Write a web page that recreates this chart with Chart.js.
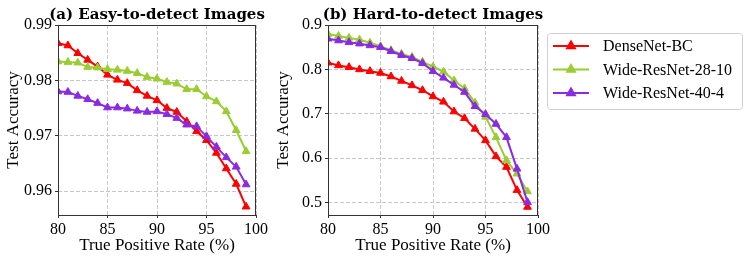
<!DOCTYPE html>
<html>
<head>
<meta charset="utf-8">
<script src="https://cdn.jsdelivr.net/npm/chart.js@4.4.0/dist/chart.umd.min.js"></script>
<style>
  html, body { margin: 0; padding: 0; background: #fff; }
  #wrap { position: relative; width: 748px; height: 263px; }
  #chartA { position: absolute; left: 0; top: 0; }
  #chartB { position: absolute; left: 270px; top: 0; }
</style>
</head>
<body>
<div id="wrap">
  <canvas id="chartA" width="270" height="263"></canvas>
  <canvas id="chartB" width="478" height="263"></canvas>
</div>
<script>
// true positive rate (%) on the x axis
const tpr = [80, 81, 82, 83, 84, 85, 86, 87, 88, 89, 90, 91, 92, 93, 94, 95, 96, 97, 98, 99];

// (a) easy-to-detect images
const easyDenseNet = [0.9867, 0.9863, 0.9849, 0.9837, 0.9825, 0.9810, 0.9801, 0.9795, 0.9782, 0.9772,
                      0.9764, 0.9750, 0.9743, 0.9726, 0.9708, 0.9692, 0.9669, 0.9641, 0.9613, 0.9572];
const easyWRN2810 = [0.9834, 0.9833, 0.9832, 0.9824, 0.9823, 0.9820, 0.9819, 0.9817, 0.9813, 0.9806,
                     0.9803, 0.9797, 0.9794, 0.9784, 0.9784, 0.9771, 0.9762, 0.9744, 0.9710, 0.9672];
const easyWRN404 = [0.9780, 0.9779, 0.9772, 0.9766, 0.9759, 0.9751, 0.9751, 0.9749, 0.9745, 0.9743,
                    0.9744, 0.9739, 0.9732, 0.9720, 0.9717, 0.9699, 0.9680, 0.9661, 0.9644, 0.9612];

// (b) hard-to-detect images
const hardDenseNet = [0.815, 0.809, 0.805, 0.800, 0.796, 0.792, 0.784, 0.774, 0.764, 0.753,
                      0.739, 0.727, 0.705, 0.690, 0.666, 0.640, 0.604, 0.580, 0.528, 0.490];
const hardWRN2810 = [0.880, 0.875, 0.871, 0.867, 0.860, 0.852, 0.843, 0.835, 0.828, 0.817,
                     0.806, 0.795, 0.775, 0.757, 0.725, 0.693, 0.647, 0.595, 0.565, 0.525];
const hardWRN404 = [0.869, 0.865, 0.861, 0.858, 0.854, 0.850, 0.841, 0.832, 0.825, 0.814,
                    0.796, 0.781, 0.765, 0.749, 0.717, 0.699, 0.677, 0.647, 0.576, 0.501];

const seriesNames = ['DenseNet-BC', 'Wide-ResNet-28-10', 'Wide-ResNet-40-4'];
const seriesColors = ['#ff0000', '#9acd32', '#8a2be2'];

const xTicks = [80, 85, 90, 95, 100];
const yTicksEasy = [0.96, 0.97, 0.98, 0.99];
const yTicksHard = [0.5, 0.6, 0.7, 0.8, 0.9];

const SERIF = "'Liberation Serif', 'Times New Roman', serif";
const TITLE_FONT = "bold 15px 'DejaVu Serif', serif";

function makeDatasets(values) {
    return values.map((vals, i) => ({
        label: seriesNames[i],
        data: tpr.map((x, j) => ({ x: x, y: vals[j] })),
        borderColor: seriesColors[i],
        backgroundColor: seriesColors[i],
        borderWidth: 2,
        pointStyle: 'triangle',
        pointRadius: 4.5,
        pointBorderWidth: 1,
        pointBorderColor: seriesColors[i],
        tension: 0,
        order: 2 - i   // purple on top, like the original
    }));
}

// frame + panel title, drawn over the plot
const framePlugin = {
    id: 'frame',
    afterDraw(chart, args, opts) {
        const { ctx, chartArea: a } = chart;
        ctx.save();
        ctx.strokeStyle = '#333';
        ctx.lineWidth = 1;
        ctx.strokeRect(Math.round(a.left) + 0.5, Math.round(a.top) + 0.5,
                       Math.round(a.right - a.left) - 1, Math.round(a.bottom - a.top));
        ctx.fillStyle = '#000';
        ctx.font = TITLE_FONT;
        ctx.textAlign = 'center';
        ctx.textBaseline = 'alphabetic';
        ctx.fillText(opts.text, (a.left + a.right) / 2, 18.5);
        ctx.restore();
    }
};

// legend box with line + triangle samples
const boxLegendPlugin = {
    id: 'boxLegend',
    afterDraw(chart, args, opts) {
        if (!opts.show) return;
        const ctx = chart.ctx;
        const x0 = 277, y0 = 33, w = 195, h = 76;
        ctx.save();
        ctx.beginPath();
        ctx.roundRect(x0 + 0.5, y0 + 0.5, w, h, 3);
        ctx.fillStyle = 'rgba(255,255,255,0.8)';
        ctx.fill();
        ctx.strokeStyle = '#d0d0d0';
        ctx.lineWidth = 1;
        ctx.stroke();
        ctx.font = "16px " + SERIF;
        ctx.textBaseline = 'middle';
        ctx.textAlign = 'left';
        seriesNames.forEach((name, i) => {
            const y = 46 + i * 23.5;
            ctx.strokeStyle = seriesColors[i];
            ctx.lineWidth = 2;
            ctx.beginPath();
            ctx.moveTo(x0 + 6, y);
            ctx.lineTo(x0 + 42, y);
            ctx.stroke();
            ctx.fillStyle = seriesColors[i];
            Chart.helpers.drawPoint(ctx, { pointStyle: 'triangle', radius: 4.5, borderWidth: 1 }, x0 + 24, y);
            ctx.fillStyle = '#000';
            ctx.fillText(name, x0 + 56, y + 1);
        });
        ctx.restore();
    }
};

const gridOpts = {
    color: '#c8c8c8',
    drawTicks: true,
    tickLength: 3,
    tickColor: '#333',
    tickWidth: 1,
    tickBorderDash: []
};

function makeChart(id, values, yTicks, yMin, yMax, title, padRight, legend) {
    const ctx = document.getElementById(id).getContext('2d');
    return new Chart(ctx, {
        type: 'line',
        data: { datasets: makeDatasets(values) },
        plugins: [framePlugin, boxLegendPlugin],
        options: {
            responsive: false,
            animation: false,
            layout: { padding: { left: 0, right: padRight, top: 25, bottom: 0 } },
            plugins: {
                legend: { display: false },
                tooltip: { enabled: false },
                frame: { text: title },
                boxLegend: { show: legend }
            },
            scales: {
                x: {
                    type: 'linear',
                    min: 80, max: 100,
                    afterBuildTicks: s => { s.ticks = xTicks.map(v => ({ value: v })); },
                    afterFit: s => { s.height = 48; },
                    grid: gridOpts,
                    border: { display: false, dash: [4, 2] },
                    ticks: { padding: 2, color: '#000', font: { family: SERIF, size: 16 } },
                    title: { display: true, text: 'True Positive Rate (%)', color: '#000',
                             padding: { top: 0, bottom: 7 }, font: { family: SERIF, size: 17 } }
                },
                y: {
                    min: yMin, max: yMax,
                    afterBuildTicks: s => { s.ticks = yTicks.map(v => ({ value: v })); },
                    afterFit: s => { s.width = 58; },
                    grid: gridOpts,
                    border: { display: false, dash: [4, 2] },
                    ticks: { padding: 3, color: '#000', font: { family: SERIF, size: 16 },
                             callback: v => String(v) },
                    title: { display: true, text: 'Test Accuracy', color: '#000',
                             padding: { top: 3, bottom: 0 }, font: { family: SERIF, size: 17 } }
                }
            }
        }
    });
}

makeChart('chartA', [easyDenseNet, easyWRN2810, easyWRN404], yTicksEasy, 0.9557, 0.99,
          '(a) Easy-to-detect Images', 3, false);
makeChart('chartB', [hardDenseNet, hardWRN2810, hardWRN404], yTicksHard, 0.472, 0.9,
          '(b) Hard-to-detect Images', 210, true);
</script>
</body>
</html>
